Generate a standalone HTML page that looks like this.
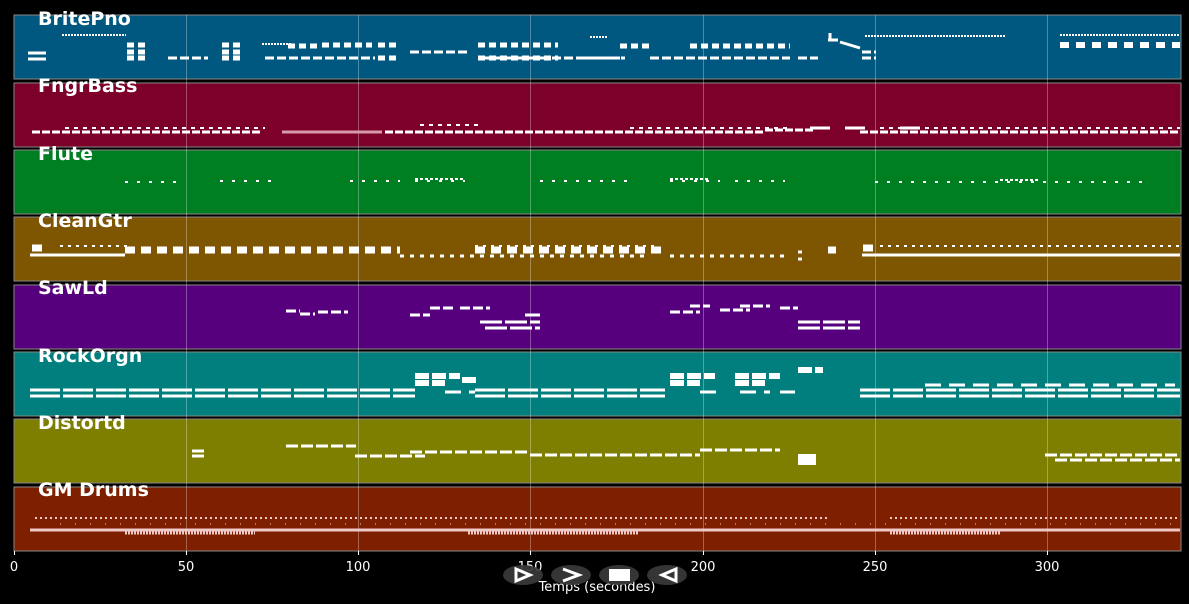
<!DOCTYPE html>
<html><head><meta charset="utf-8"><style>
html,body{margin:0;padding:0;background:#000;}
svg{display:block;font-family:"Liberation Sans","DejaVu Sans",sans-serif;}
.lbl{fill:#fff;font-weight:bold;font-size:19px;font-family:"DejaVu Sans","Liberation Sans",sans-serif;}
.n{stroke:#fff;fill:none;}
.p{stroke:#f0c8c8;fill:none;}
</style></head><body>
<svg width="1189" height="604" viewBox="0 0 1189 604">
<rect width="1189" height="604" fill="#000"/>
<g stroke="#888" stroke-width="1">
<rect x="14" y="15" width="1167" height="64" fill="#005880"/>
<rect x="14" y="83" width="1167" height="64" fill="#7c0029"/>
<rect x="14" y="150" width="1167" height="64" fill="#007f22"/>
<rect x="14" y="217" width="1167" height="64" fill="#7e5500"/>
<rect x="14" y="285" width="1167" height="64" fill="#56007e"/>
<rect x="14" y="352" width="1167" height="64" fill="#007f7e"/>
<rect x="14" y="419" width="1167" height="64" fill="#7e7e00"/>
<rect x="14" y="487" width="1167" height="64" fill="#7e2000"/>
</g>
<g stroke="#ffffff" stroke-opacity="0.3" stroke-width="1">
<line x1="186.5" y1="15" x2="186.5" y2="551"/><line x1="358.5" y1="15" x2="358.5" y2="551"/>
<line x1="530.5" y1="15" x2="530.5" y2="551"/><line x1="703.5" y1="15" x2="703.5" y2="551"/>
<line x1="875.5" y1="15" x2="875.5" y2="551"/><line x1="1047.5" y1="15" x2="1047.5" y2="551"/>
</g>
<g class="n">
<path d="M28 53h18M28 59h18" stroke-width="3"/>
<path d="M62 35h64M262 44h30M590 37h18M865 36h140M1060 35h120" stroke-width="2" stroke-dasharray="2 1"/>
<path d="M127 45h22M127 52h22M127 58h22M222 45h22M222 52h22M222 58h22M288 46h30M322 45h50M378 45h22M378 58h22M478 45h80M478 58h80M620 46h30M690 46h100" stroke-width="5" stroke-dasharray="7 4"/>
<path d="M168 58h40M265 58h110M410 52h60M480 58h140M585 58h40M650 58h140M798 58h20M862 52h14M862 58h14" stroke-width="3" stroke-dasharray="9 3"/>
<path d="M828 40h10M830 33v8M840 42l20 6" stroke-width="3"/>
<path d="M1060 45h120" stroke-width="6" stroke-dasharray="9 7"/>
</g>
<g class="n">
<path d="M32 132h230M385 132h380M765 130h50M860 132h320" stroke-width="3" stroke-dasharray="8 2"/>
<path d="M282 132h100" stroke="#d89aaa" stroke-width="3"/>
<path d="M65 128h200M420 125h60M630 128h160M880 128h300" stroke-width="2" stroke-dasharray="4 5"/>
<path d="M810 128h20M845 128h20M900 128h20" stroke-width="3"/>
</g>
<g class="n" stroke-width="2">
<path d="M125 182h60M220 181h60M350 181h50M415 181h50M540 181h90M670 181h50M735 181h50M875 182h275" stroke-dasharray="3 9"/>
<path d="M415 179h50M670 179h40M1000 180h40" stroke-dasharray="3 2"/>
</g>
<g class="n">
<path d="M30 255h95M862 255h318" stroke-width="3"/>
<path d="M32 248h12M125 250h275M475 250h190M863 248h10M828 250h8" stroke-width="7" stroke-dasharray="10 6"/>
<path d="M60 246h70M475 246h180M880 246h300" stroke-width="2" stroke-dasharray="3 5"/>
<path d="M400 256h250M670 256h120M798 252h8M798 259h8" stroke-width="3" stroke-dasharray="4 6"/>
</g>
<g class="n" stroke-width="3">
<path d="M286 311h14M300 314h15M318 312h30M410 315h20M430 308h25M460 308h30M670 312h30M690 306h20M720 310h30M740 306h30M780 308h18" stroke-dasharray="10 3"/>
<path d="M480 322h60M485 328h55M525 315h15M798 322h62M798 328h62" stroke-width="3" stroke-dasharray="22 3"/>
</g>
<g class="n" stroke-width="3">
<path d="M30 390h385M30 396h385M475 390h190M475 396h190M860 390h320M860 396h320" stroke-dasharray="30 3"/>
<path d="M415 376h45M415 383h30M462 380h15M670 376h45M670 383h30M735 376h45M735 383h30M798 370h25" stroke-width="6" stroke-dasharray="14 3"/>
<path d="M925 385h250M445 392h30M700 392h20M740 392h30M780 392h15" stroke-dasharray="16 8"/>
</g>
<g class="n" stroke-width="3">
<path d="M192 451h12M192 456h12M286 446h70M355 456h70M410 452h120M530 455h170M700 450h80M1045 455h135M1055 460h125" stroke-dasharray="12 3"/>
<path d="M798 457h18M798 462h18" stroke-width="6"/>
</g>
<g>
<path class="p" d="M35 518h795M890 518h290" stroke-width="2" stroke-dasharray="2 3"/>
<path class="p" d="M30 530h1150" stroke-width="3"/>
<path class="p" d="M125 533h130M468 533h170M890 533h110" stroke-width="3" stroke-dasharray="2 1"/>
<path class="p" d="M60 524h1120" stroke-width="1" stroke-dasharray="1 14"/>
</g>
<text class="lbl" x="38" y="25">BritePno</text>
<text class="lbl" x="38" y="92">FngrBass</text>
<text class="lbl" x="38" y="160">Flute</text>
<text class="lbl" x="38" y="227">CleanGtr</text>
<text class="lbl" x="38" y="294">SawLd</text>
<text class="lbl" x="38" y="362">RockOrgn</text>
<text class="lbl" x="38" y="429">Distortd</text>
<text class="lbl" x="38" y="496">GM Drums</text>
<g stroke="#fff" stroke-width="1">
<line x1="14.5" y1="551" x2="14.5" y2="555"/><line x1="186.5" y1="551" x2="186.5" y2="555"/>
<line x1="358.5" y1="551" x2="358.5" y2="555"/><line x1="530.5" y1="551" x2="530.5" y2="555"/>
<line x1="703.5" y1="551" x2="703.5" y2="555"/><line x1="875.5" y1="551" x2="875.5" y2="555"/>
<line x1="1047.5" y1="551" x2="1047.5" y2="555"/>
</g>
<g fill="#fff" font-size="13" text-anchor="middle" font-family="DejaVu Sans, Liberation Sans, sans-serif">
<text x="14" y="571">0</text><text x="186" y="571">50</text><text x="358" y="571">100</text>
<text x="530" y="571">150</text><text x="703" y="571">200</text><text x="875" y="571">250</text>
<text x="1047" y="571">300</text>
<text x="597" y="591">Temps (secondes)</text>
</g>
<g fill="#3a3a3a" fill-opacity="0.92">
<ellipse cx="523" cy="575" rx="20" ry="10"/><ellipse cx="571" cy="575" rx="20" ry="10"/>
<ellipse cx="619" cy="575" rx="20" ry="10"/><ellipse cx="667" cy="575" rx="20" ry="10"/>
</g>
<g stroke="#fff" stroke-width="3" fill="none">
<path d="M516 569l14 6-14 6z"/><path d="M563 569l16 6-16 6"/>
<path d="M676 569l-14 6 14 6z"/>
</g>
<rect x="609" y="569" width="21" height="12" fill="#fff"/>
</svg>
</body></html>
